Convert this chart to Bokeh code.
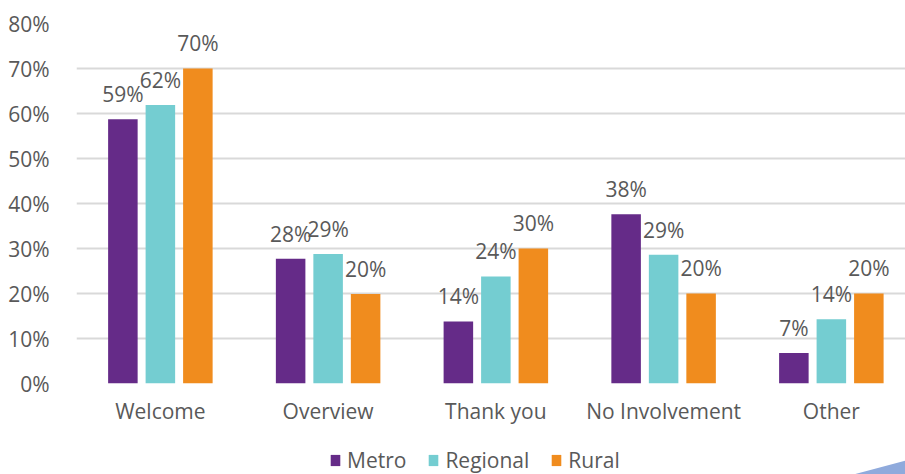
from bokeh.plotting import figure
from bokeh.layouts import column
from bokeh.models import (ColumnDataSource, Range1d, FixedTicker, PrintfTickFormatter,
                          Legend, LegendItem, PolyAnnotation)
from bokeh.transform import dodge
from bokeh.core.properties import value
from bokeh.embed import file_html
from bokeh.resources import INLINE

# ---- data ----
categories = ["Welcome", "Overview", "Thank you", "No Involvement", "Other"]
metro = [58.7, 27.7, 13.8, 37.6, 6.8]
regional = [61.9, 28.8, 23.8, 28.6, 14.3]
rural = [70.0, 19.9, 30.0, 20.0, 20.0]
series_names = ["Metro", "Regional", "Rural"]
y_ticks = [0, 10, 20, 30, 40, 50, 60, 70, 80]

colors = ["#652B88", "#74CDD1", "#F08C1E"]
FONT = "Open Sans"
FS = "21px"
TXT = "#595959"

xc = [i + 0.5 for i in range(len(categories))]
src = ColumnDataSource(dict(
    xc=xc,
    Metro=metro, Regional=regional, Rural=rural,
    Metro_lab=[f"{round(v)}%" for v in metro],
    Regional_lab=[f"{round(v)}%" for v in regional],
    Rural_lab=[f"{round(v)}%" for v in rural],
    Metro_ly=[v + 5.6 for v in metro],
    Regional_ly=[v + 5.6 for v in regional],
    Rural_ly=[v + 5.6 for v in rural],
))

p = figure(width=905, height=442, output_backend="svg", toolbar_location=None,
           x_range=Range1d(0, 4.942), y_range=Range1d(0, 80),
           min_border_left=76, min_border_right=0, min_border_top=23,
           min_border_bottom=59)
p.outline_line_color = None
p.background_fill_color = "white"
p.border_fill_color = "white"

offsets = [-0.2235, 0.0, 0.2235]
bar_w = 0.176
for name, col, off in zip(series_names, colors, offsets):
    p.vbar(x=dodge("xc", off, range=p.x_range), top=name, width=bar_w, source=src,
           fill_color=col, line_color=None)
    p.text(x=dodge("xc", off, range=p.x_range), y=f"{name}_ly", text=f"{name}_lab",
           source=src, text_align="center", text_baseline="middle",
           text_font=value(FONT), text_font_size=FS, text_color=TXT)

# axes
p.xaxis.ticker = FixedTicker(ticks=xc)
p.xaxis.major_label_overrides = {x: c for x, c in zip(xc, categories)}
p.xaxis.axis_line_color = None
p.xaxis.major_tick_line_color = None
p.xaxis.minor_tick_line_color = None
p.xaxis.major_label_standoff = 7
p.xaxis.major_label_text_font = FONT
p.xaxis.major_label_text_font_size = FS
p.xaxis.major_label_text_color = TXT

p.yaxis.ticker = FixedTicker(ticks=y_ticks)
p.yaxis.formatter = PrintfTickFormatter(format="%d%%")
p.yaxis.axis_line_color = None
p.yaxis.major_tick_line_color = None
p.yaxis.minor_tick_line_color = None
p.yaxis.major_label_standoff = 21
p.yaxis.major_label_text_font = FONT
p.yaxis.major_label_text_font_size = FS
p.yaxis.major_label_text_color = TXT

p.xgrid.grid_line_color = None
p.ygrid.ticker = FixedTicker(ticks=y_ticks)
p.ygrid.grid_line_color = "#D9D9D9"
p.ygrid.grid_line_width = 2

# ---- legend strip ----
lf = figure(width=905, height=32, output_backend="svg", toolbar_location=None,
            x_range=Range1d(0, 1), y_range=Range1d(0, 1),
            min_border=0, x_axis_location=None, y_axis_location=None)
lf.outline_line_color = None
lf.grid.visible = False
# legend-key renderers whose single bar lies outside the visible range
key_src = ColumnDataSource(dict(x=[-10.0], top=[0.0]))
leg_r = [lf.vbar(x="x", top="top", width=0.1, source=key_src, fill_color=c, line_color=None)
         for c in colors]
legend = Legend(items=[LegendItem(label=n, renderers=[r]) for n, r in zip(series_names, leg_r)],
                orientation="horizontal", location=(253, 0),
                glyph_width=12, glyph_height=14, label_standoff=6, spacing=21,
                padding=0, margin=0, border_line_color=None, background_fill_alpha=0,
                label_text_font=FONT, label_text_font_size=FS, label_text_color=TXT)
lf.add_layout(legend, "center")

tri = PolyAnnotation(xs=[853, 905, 905], ys=[32, 18, 32], xs_units="canvas", ys_units="canvas",
                     fill_color="#8FAADC", fill_alpha=1.0, line_color=None)
lf.add_layout(tri)

open("out.html", "w").write(file_html(column(p, lf, spacing=0), INLINE))
